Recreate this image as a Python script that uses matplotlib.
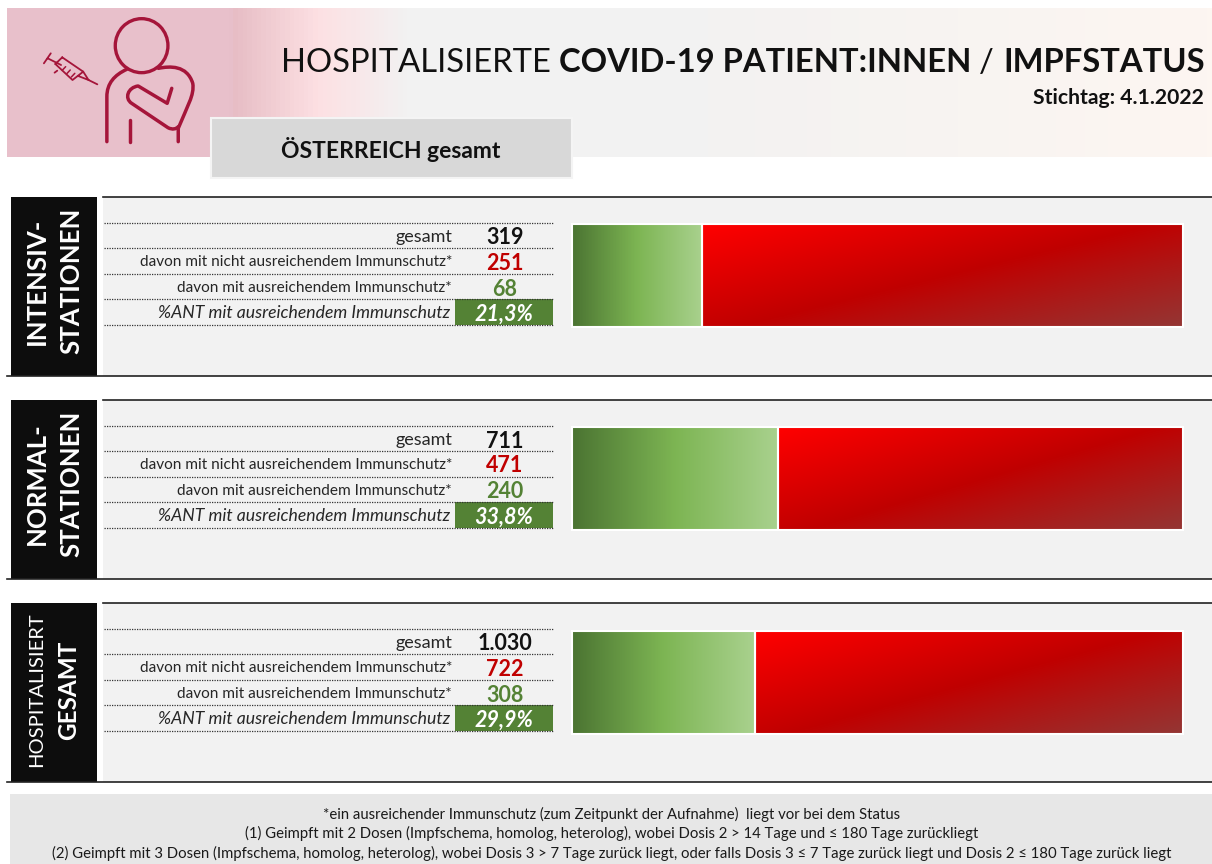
import numpy as np
import matplotlib
matplotlib.use("Agg")
import matplotlib.pyplot as plt
from matplotlib.colors import LinearSegmentedColormap
from matplotlib.patches import Rectangle, Ellipse, PathPatch
from matplotlib.path import Path

plt.rcParams["font.family"] = ["Lato", "DejaVu Sans"]

W = 1212
H = 864

# data
station_top = ["INTENSIV-", "NORMAL-", "HOSPITALISIERT"]
station_bottom = ["STATIONEN", "STATIONEN", "GESAMT"]
total = [319, 711, 1030]
total_labels = ["319", "711", "1.030"]
not_protected = [251, 471, 722]
protected = [68, 240, 308]
share_labels = ["21,3%", "33,8%", "29,9%"]
row_labels = ["gesamt", "davon mit nicht ausreichendem Immunschutz*",
              "davon mit ausreichendem Immunschutz*"]
share_row_label = "%ANT mit ausreichendem Immunschutz"
footnotes = ["*ein ausreichender Immunschutz (zum Zeitpunkt der Aufnahme)  liegt vor bei dem Status",
             "(1) Geimpft mit 2 Dosen (Impfschema, homolog, heterolog), wobei Dosis 2 > 14 Tage und ≤ 180 Tage zurückliegt",
             "(2) Geimpft mit 3 Dosen (Impfschema, homolog, heterolog), wobei Dosis 3 > 7 Tage zurück liegt, oder falls Dosis 3 ≤ 7 Tage zurück liegt und Dosis 2 ≤ 180 Tage zurück liegt"]

panel_tops = [197, 400, 603]
bar_tops = [224, 427, 631]

GREEN = "#548235"
RED = "#c00000"
ICON = "#a5153a"

fig = plt.figure(figsize=(W / 100, H / 100), dpi=100, facecolor="white")
ax = fig.add_axes([0, 0, 1, 1])
ax.set_xlim(0, W)
ax.set_ylim(H, 0)
ax.axis("off")

# header band
header = LinearSegmentedColormap.from_list("header", [
    (0, "#e8c0cb"), (222 / 1205, "#e8c0cb"), (223 / 1205, "#e6bcc4"),
    (310 / 1205, "#fde0e3"), (400 / 1205, "#f2f2f2"),
    (700 / 1205, "#f3f2f2"), (1, "#fdf6f1")])
ax.imshow(np.linspace(0, 1, 1205)[None, :], cmap=header, extent=[7, 1212, 157, 8],
          aspect="auto", zorder=1)
ax.set_xlim(0, W)
ax.set_ylim(H, 0)

# icon, outline traced in zoomed crop coordinates
def z(pts):
    return [(x / 2.62, y / 3) for x, y in pts]

def icon_path(verts, codes, lw=2.5):
    ax.add_patch(PathPatch(Path(z(verts), codes), fill=False, ec=ICON, lw=lw,
                           capstyle="round", joinstyle="round", zorder=2))

M, L, C = Path.MOVETO, Path.LINETO, Path.CURVE4
ax.add_patch(Ellipse((371 / 2.62, 137 / 3), 138 / 2.62, 162 / 3, fill=False, ec=ICON, lw=2.4, zorder=2))
icon_path([(280, 425), (280, 290), (280, 250), (300, 225), (332, 208)], [M, L, C, C, C])
icon_path([(415, 205), (445, 198), (490, 195), (505, 250), (510, 285), (490, 320), (467, 385),
           (467, 425)], [M, C, C, C, C, C, C, L])
icon_path([(450, 265), (438, 310), (362, 258), (335, 262), (325, 295), (345, 310), (440, 383),
           (452, 390), (462, 387), (467, 380)], [M, L, L, C, C, C, L, C, C, C])
icon_path([(341, 360), (341, 425)], [M, L])
# syringe
icon_path([(115, 190), (133, 160), (125, 175), (160, 195), (150, 212), (143, 218),
           (163, 172), (145, 192), (163, 172), (218, 215), (190, 240), (145, 192),
           (218, 215), (232, 240), (205, 228), (232, 240), (255, 253)],
          [M, L, M, L, M, L, M, L, M, L, L, L, M, L, L, M, L], lw=1.3)
for xs, ys in [(172, 200), (184, 210), (196, 220)]:
    icon_path([(xs, ys), (xs - 9, ys + 11)], [M, L], lw=1.1)

# header box
ax.add_patch(Rectangle((211, 118), 361, 60, fc="#d8d8d8", ec="#f4f4f4", lw=1.5, zorder=3))
ax.text(391, 149, "ÖSTERREICH gesamt", ha="center", va="center", fontsize=16.5,
        fontweight="bold", color="#111111", zorder=4)

# title is four runs of text placed one after another
title_parts = [("HOSPITALISIERTE", "normal", 8), ("COVID-19 PATIENT:INNEN", "bold", 8),
               ("/", "normal", 9), ("IMPFSTATUS", "bold", 0)]
renderer = fig.canvas.get_renderer()
tx = 281
for part, weight, gap in title_parts:
    t = ax.text(tx, 72, part, ha="left", va="baseline", fontsize=23.6,
                fontweight=weight, color="#111111", zorder=4)
    tx = t.get_window_extent(renderer).x1 + gap
ax.text(1204, 98, "Stichtag: 4.1.2022", ha="right", va="center", fontsize=15.2,
        fontweight="bold", color="#111111", zorder=4)

# panels
for i, top in enumerate(panel_tops):
    bottom = top + 179
    ax.add_patch(Rectangle((103, top), W - 103, 179, fc="#f2f2f2", ec="none", zorder=1))
    ax.add_patch(Rectangle((11, top), 86, 179, fc="#0d0d0d", ec="none", zorder=2))
    ax.plot([103, W], [top, top], color="#222222", lw=1.2, zorder=3)
    ax.plot([7, W], [bottom, bottom], color="#222222", lw=1.2, zorder=3)

    mid = top + 86
    if i < 2:
        ax.text(37, mid - 2, station_top[i], rotation=90, ha="center", va="center", fontsize=18.5,
                fontweight="bold", color="white", zorder=4)
        ax.text(71, mid - 2, station_bottom[i], rotation=90, ha="center", va="center", fontsize=18.5,
                fontweight="bold", color="white", zorder=4)
    else:
        ax.text(37, mid + 1, station_top[i], rotation=90, ha="center", va="center", fontsize=14.5,
                color="white", zorder=4)
        ax.text(69, mid + 1, station_bottom[i], rotation=90, ha="center", va="center", fontsize=17.5,
                fontweight="bold", color="white", zorder=4)

    rows = [top + 26 + d for d in (0, 25, 51, 76, 102)]
    ax.add_patch(Rectangle((455, rows[3]), 98, rows[4] - rows[3], fc=GREEN, ec="none", zorder=2))
    for ry in rows:
        ax.plot([104, 553], [ry, ry], color="#333333", lw=0.9, ls=(0, (1, 1)), zorder=3)

    vals = [total_labels[i], str(not_protected[i]), str(protected[i])]
    cols = ["#111111", RED, GREEN]
    for r in range(3):
        ax.text(452, rows[r] + 14, row_labels[r], ha="right", va="center",
                fontsize=13 if r == 0 else 11.05, color="#262626", zorder=4)
        ax.text(505, rows[r] + 15, vals[r], ha="center", va="center", fontsize=15.5,
                fontweight="bold", color=cols[r], zorder=4)
    ax.text(450, rows[3] + 14, share_row_label, ha="right", va="center", fontsize=12.7,
            style="italic", color="#262626", zorder=4)
    ax.text(504, rows[3] + 15, share_labels[i], ha="center", va="center", fontsize=15.5,
            style="italic", fontweight="bold", color="white", zorder=4)

# stacked bars, one axes per panel
green_cmap = LinearSegmentedColormap.from_list("g", ["#4b7432", "#7db553", "#a9d18e"])
red_cmap = LinearSegmentedColormap.from_list("r", ["#ff0000", "#c00000", "#943634"])
uu, vv = np.meshgrid(np.linspace(0, 1, 300), np.linspace(0, 1, 100))
for i, top in enumerate(bar_tops):
    bax = fig.add_axes([572 / W, 1 - (top + 103) / H, 611 / W, 103 / H])
    bax.barh(0.5, protected[i], height=1, left=0, fc="none", ec="white", lw=1.5, zorder=3, clip_on=False)
    bax.barh(0.5, not_protected[i], height=1, left=protected[i], fc="none", ec="white", lw=1.5, zorder=3, clip_on=False)
    bax.imshow(uu, cmap=green_cmap, extent=[0, protected[i], 0, 1], aspect="auto", zorder=1)
    bax.imshow(0.535 * uu + 0.465 * vv, cmap=red_cmap, vmin=0, vmax=1,
               extent=[protected[i], total[i], 0, 1], aspect="auto", zorder=1)
    bax.set_xlim(0, total[i])
    bax.set_ylim(0, 1)
    bax.axis("off")

# footer
ax.add_patch(Rectangle((10, 794), W - 10, 70, fc="#e7e7e7", ec="none", zorder=1))
for y, line in zip([814, 833, 853], footnotes):
    ax.text(612, y, line, ha="center", va="center", fontsize=10.7, color="#1a1a1a", zorder=4)

fig.savefig("out.png", dpi=100, facecolor="white")
